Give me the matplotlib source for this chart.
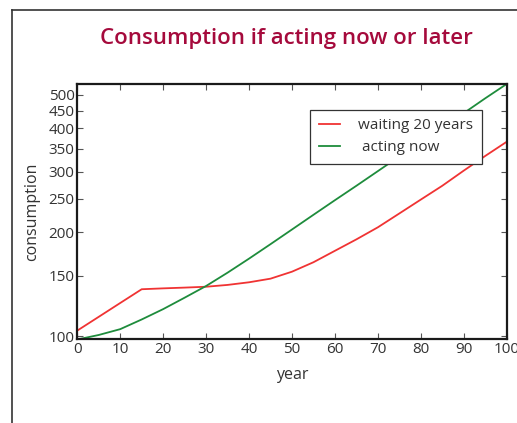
import matplotlib.pyplot as plt
from matplotlib.lines import Line2D
from matplotlib.ticker import FixedLocator, NullLocator, FixedFormatter

plt.rcParams['font.family'] = ['Open Sans', 'DejaVu Sans']

years = [0, 5, 10, 15, 20, 25, 30, 35, 40, 45, 50, 55, 60, 65, 70, 75, 80, 85, 90, 95, 100]
waiting = [104, 114, 125, 137, 137.8, 138.5, 139.3, 141, 143.5, 147, 154, 164, 177, 191, 207,
           227, 249, 273, 302, 333, 366]
acting = [98, 101, 105, 112, 120, 129.5, 140, 153, 168, 185, 204, 225, 248, 273, 301,
          332, 365, 402, 443, 489, 538]

yticks = [100, 150, 200, 250, 300, 350, 400, 450, 500]
xticks = [0, 10, 20, 30, 40, 50, 60, 70, 80, 90, 100]

fig = plt.figure(figsize=(5.17, 4.23), dpi=100)
ax = fig.add_axes([0.1495, 0.1974, 0.8305, 0.604])

ax.plot(years, waiting, color='#f03333', lw=1.3, label='waiting 20 years')
ax.plot(years, acting, color='#1e8c3c', lw=1.3, label=' acting now')

ax.set_yscale('log')
ax.set_xlim(0, 100)
ax.set_ylim(98, 538)
ax.yaxis.set_major_locator(FixedLocator(yticks))
ax.yaxis.set_major_formatter(FixedFormatter([str(t) for t in yticks]))
ax.yaxis.set_minor_locator(NullLocator())
ax.set_xticks(xticks)

for s in ax.spines.values():
    s.set_linewidth(1.6)
    s.set_color('#1a1a1a')
ax.tick_params(direction='in', length=4, width=0.8, top=True, right=True,
               labelsize=11, labelcolor='#333333', colors='#555555', pad=2)

ax.set_xlabel('year', fontsize=11.5, color='#333333', labelpad=7)
ax.set_ylabel('consumption', fontsize=11.5, color='#333333', labelpad=6)
ax.set_title('Consumption if acting now or later', fontsize=16, fontweight='semibold',
             color='#a50a3c', pad=29, x=0.486)

leg = ax.legend(loc='upper right', bbox_to_anchor=(0.942, 0.898), borderaxespad=0,
                fontsize=11, fancybox=False, framealpha=1, handlelength=1.4,
                borderpad=0.55, handletextpad=1.2, labelspacing=0.45)
leg.get_frame().set_edgecolor('#333333')
leg.get_frame().set_linewidth(0.9)
for t in leg.get_texts():
    t.set_color('#333333')

# outer frame around the figure (left and top edges only visible)
fig.add_artist(Line2D([12 / 517, 12 / 517], [0, 1 - 10 / 423], color='#333333', lw=1.2))
fig.add_artist(Line2D([12 / 517, 1], [1 - 10 / 423, 1 - 10 / 423], color='#333333', lw=1.2))

fig.savefig('out.png', dpi=100)
